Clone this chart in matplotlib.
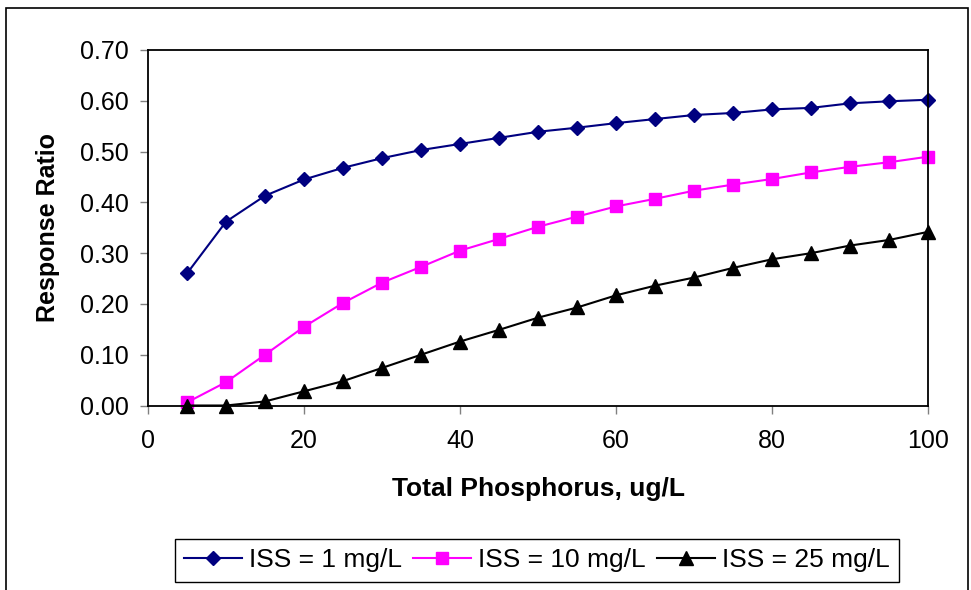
import matplotlib
matplotlib.use('Agg')
import matplotlib.pyplot as plt
from matplotlib.patches import Rectangle

plt.rcParams['font.family'] = ['Liberation Sans', 'DejaVu Sans']

tp = [5, 10, 15, 20, 25, 30, 35, 40, 45, 50, 55, 60, 65, 70, 75, 80, 85, 90, 95, 100]
iss_1 = [0.260, 0.362, 0.413, 0.445, 0.468, 0.487, 0.503, 0.515, 0.527, 0.539, 0.547, 0.556, 0.564,
         0.572, 0.576, 0.583, 0.586, 0.595, 0.599, 0.602]
iss_10 = [0.006, 0.046, 0.100, 0.155, 0.202, 0.242, 0.273, 0.305, 0.328, 0.352, 0.372, 0.392, 0.407,
          0.423, 0.435, 0.446, 0.459, 0.470, 0.479, 0.490]
iss_25 = [0.000, 0.000, 0.008, 0.028, 0.048, 0.074, 0.100, 0.126, 0.149, 0.173, 0.193, 0.217, 0.236,
          0.252, 0.271, 0.288, 0.300, 0.315, 0.326, 0.342]
labels = ['ISS = 1 mg/L', 'ISS = 10 mg/L', 'ISS = 25 mg/L']

fig = plt.figure(figsize=(9.71, 5.90), dpi=100)
ax = fig.add_axes([0.1524, 0.3127, 0.8036, 0.6026])

l1, = ax.plot(tp, iss_1, color='#000080', marker='D', ms=7, lw=1.5, clip_on=False)
l2, = ax.plot(tp, iss_10, color='#FF00FF', marker='s', ms=8.5, lw=1.5, clip_on=False)
l3, = ax.plot(tp, iss_25, color='black', marker='^', ms=9.5, lw=1.5, clip_on=False)

ax.set_xlim(0, 100)
ax.set_ylim(0, 0.70)
ax.set_xticks(range(0, 101, 20))
ax.set_yticks([i / 10 for i in range(8)])
ax.set_yticklabels(['%.2f' % (i / 10) for i in range(8)])
for s in ax.spines.values():
    s.set_linewidth(1.3)
ax.tick_params(axis='both', direction='out', length=6, width=1, color='#808080', labelsize=18)
ax.tick_params(axis='x', pad=11)
ax.tick_params(axis='y', pad=8)

ax.set_xlabel('Total Phosphorus, ug/L', fontsize=19, fontweight='bold', labelpad=17)
ax.set_ylabel('Response Ratio', fontsize=18, fontweight='bold', labelpad=14)

fig.legend([l1, l2, l3], labels, loc='center', bbox_to_anchor=(0.553, 0.05), ncol=3,
           fontsize=19, frameon=True, fancybox=False, edgecolor='black', framealpha=1,
           handlelength=2.2, handletextpad=0.28, columnspacing=0.4, borderpad=0.35,
           borderaxespad=0)

fig.patches.append(Rectangle((6 / 971, -0.1), 962 / 971, 1.1 - 8 / 590, transform=fig.transFigure,
                             fill=False, edgecolor='black', lw=1.2, clip_on=False))

fig.savefig('out.png', dpi=100)
